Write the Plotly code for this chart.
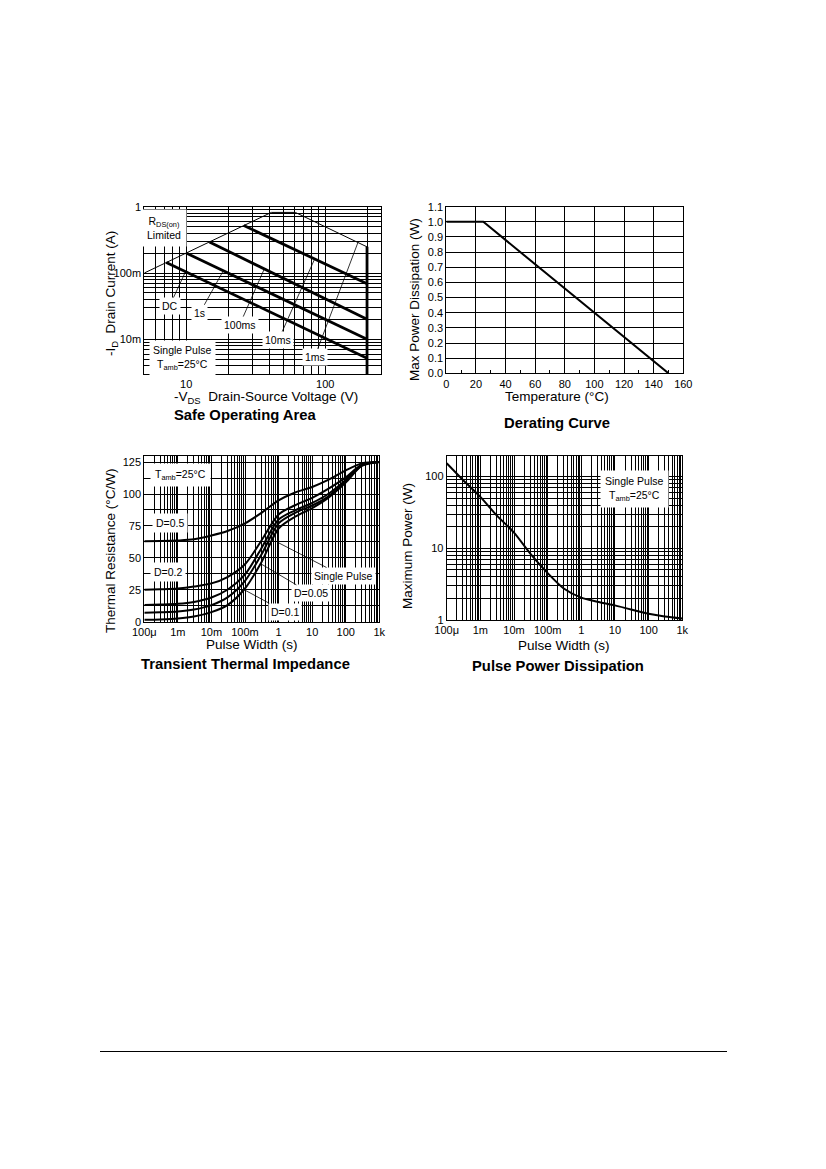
import math
import plotly.graph_objects as go

# ---- Safe Operating Area (-VDS in V, -ID in A)
soa_limit_v = [5, 41, 61, 200]
soa_limit_i = [0.1, 0.82, 0.82, 0.248]
soa_edge_v = [200, 200]
soa_edge_i = [0.248, 0.003]
soa_dc_v = [7.2, 200]
soa_dc_i = [0.144, 0.0052]
soa_1s_v = [10, 200]
soa_1s_i = [0.2, 0.01]
soa_100ms_v = [14.7, 200]
soa_100ms_i = [0.294, 0.02]
soa_10ms_v = [26, 200]
soa_10ms_i = [0.52, 0.069]

# ---- Derating curve
derate_temp = [0, 25, 150]
derate_power = [1.0, 1.0, 0.0]

# ---- Transient thermal impedance (pulse width s, degC/W)
pulse_t = [1e-4, 3e-4, 1e-3, 3e-3, 1e-2, 3e-2, 0.1, 0.3, 1, 3, 10, 30, 100, 300, 1000]
zth_d05 = [63, 63.2, 63.6, 64.5, 67.5, 71, 77, 85, 95, 101, 105.5, 111, 118.5, 124, 125]
zth_d02 = [25, 25.4, 26, 27.5, 30, 35, 45, 63, 84, 91, 97, 104, 113, 123, 125]
zth_d01 = [13, 13.4, 14, 15.5, 19, 25, 37, 57, 80, 87, 93, 100, 111, 122.5, 125]
zth_d005 = [7, 7.4, 8, 9.5, 13, 19, 32, 52, 77, 85, 91, 98, 110, 122.5, 125]
zth_single = [1.5, 1.8, 2.5, 4, 7.5, 13, 26, 46, 73, 82, 89, 97, 109, 122, 125]

# ---- Pulse power dissipation (pulse width s, W)
ppd_t = [1e-4, 3e-4, 1e-3, 3e-3, 1e-2, 3e-2, 0.1, 0.3, 1, 3, 10, 30, 100, 300, 1000]
ppd_p = [153, 90, 52, 29, 16.5, 8.5, 4.5, 2.75, 2.05, 1.8, 1.6, 1.4, 1.22, 1.12, 1.05]

# tick labels
soa_xlabels = {10: "10", 100: "100"}
soa_ylabels = {0.01: "10m", 0.1: "100m", 1: "1"}
time_labels = {1e-4: "100\u03bc", 1e-3: "1m", 1e-2: "10m", 1e-1: "100m",
               1: "1", 10: "10", 100: "100", 1000: "1k"}
ppd_ylabels = {1: "1", 10: "10", 100: "100"}

FONT = "Liberation Sans, Arial, sans-serif"
W, H = 826, 1169
OFF = 8  # page body margin of the html wrapper


def px(x):
    return (x - OFF) / W


def py(y):
    return 1 - (y - OFF) / H


def log_grid(lo_exp, hi_exp, extra=()):
    vals = [m * 10 ** e for e in range(lo_exp, hi_exp) for m in range(1, 10)]
    vals.append(10 ** hi_exp)
    vals += list(extra)
    return vals


def labels_for(vals, lookup):
    out = []
    for v in vals:
        txt = ""
        for k, t in lookup.items():
            if abs(v - k) < 1e-9 * max(1, k):
                txt = t
        out.append(txt)
    return out


fig = go.Figure()

thick = dict(color="black", width=2.8)
thin = dict(color="black", width=1)

# chart 1
fig.add_trace(go.Scatter(x=soa_limit_v, y=soa_limit_i, mode="lines", line=thin, xaxis="x", yaxis="y"))
fig.add_trace(go.Scatter(x=soa_edge_v, y=soa_edge_i, mode="lines", line=thick, xaxis="x", yaxis="y"))
for v, i in [(soa_dc_v, soa_dc_i), (soa_1s_v, soa_1s_i),
             (soa_100ms_v, soa_100ms_i), (soa_10ms_v, soa_10ms_i)]:
    fig.add_trace(go.Scatter(x=v, y=i, mode="lines", line=thick, xaxis="x", yaxis="y"))

# chart 2
fig.add_trace(go.Scatter(x=derate_temp, y=derate_power, mode="lines",
                         line=dict(color="black", width=2), xaxis="x2", yaxis="y2"))

# chart 3
for z in [zth_d05, zth_d02, zth_d01, zth_d005, zth_single]:
    fig.add_trace(go.Scatter(x=pulse_t, y=z, mode="lines",
                             line=dict(color="black", width=2, shape="spline", smoothing=0.8),
                             xaxis="x3", yaxis="y3"))

# chart 4
fig.add_trace(go.Scatter(x=ppd_t, y=ppd_p, mode="lines",
                         line=dict(color="black", width=2, shape="spline", smoothing=0.8),
                         xaxis="x4", yaxis="y4"))

axis_common = dict(showline=True, mirror=True, linecolor="black", linewidth=1,
                   showgrid=True, gridcolor="black", gridwidth=1, zeroline=False,
                   automargin=False, ticks="",
                   tickfont=dict(family=FONT, size=11, color="black"))

soa_xv = [5, 6, 7, 8, 9] + log_grid(1, 2, extra=[200])
soa_yv = [0.003, 0.004, 0.005, 0.006, 0.007, 0.008, 0.009] + log_grid(-2, 0)
time_v = log_grid(-4, 3)
ppd_yv = log_grid(0, 2, extra=[200])
zth_yv = [k * 12.5 for k in range(11)]

fig.update_layout(
    template="none",
    width=W, height=H, margin=dict(l=0, r=0, t=0, b=0, pad=0, autoexpand=False),
    paper_bgcolor="white", plot_bgcolor="white", showlegend=False,
    font=dict(family=FONT, color="black"),
    xaxis=dict(axis_common, type="log", domain=[px(144.3), px(380.5)],
               range=[math.log10(5), math.log10(250)], anchor="y",
               tickvals=soa_xv, ticktext=labels_for(soa_xv, soa_xlabels)),
    yaxis=dict(axis_common, type="log", domain=[py(374), py(206.7)],
               range=[math.log10(0.003), 0], anchor="x",
               tickvals=soa_yv, ticktext=labels_for(soa_yv, soa_ylabels)),
    xaxis2=dict(axis_common, domain=[px(446.3), px(683.3)], range=[0, 160],
                dtick=20, anchor="y2", ticks="inside", ticklen=3, tickcolor="black",
                minor=dict(dtick=10, ticks="inside", ticklen=3, tickcolor="black", showgrid=False)),
    yaxis2=dict(axis_common, domain=[py(373.3), py(206.7)], range=[0, 1.1],
                dtick=0.1, tickformat=".1f", anchor="x2"),
    xaxis3=dict(axis_common, type="log", domain=[px(144.3), px(379.3)], range=[-4, 3],
                anchor="y3", tickvals=time_v, ticktext=labels_for(time_v, time_labels)),
    yaxis3=dict(axis_common, domain=[py(621.7), py(455.7)], range=[0, 130], anchor="x3",
                tickvals=zth_yv,
                ticktext=[("%g" % v) if k % 2 == 0 else "" for k, v in enumerate(zth_yv)]),
    xaxis4=dict(axis_common, type="log", domain=[px(446.7), px(682.3)], range=[-4, 3],
                anchor="y4", tickvals=time_v, ticktext=labels_for(time_v, time_labels)),
    yaxis4=dict(axis_common, type="log", domain=[py(620), py(455.7)],
                range=[0, 2.29], anchor="x4",
                tickvals=ppd_yv, ticktext=labels_for(ppd_yv, ppd_ylabels)),
)

ann = []
lab_font = dict(family=FONT, size=10.5, color="black")


def box(text, x, y, xa, ya, log_x=True, log_y=True, pad=2):
    ann.append(dict(text=text, x=math.log10(x) if log_x else x,
                    y=math.log10(y) if log_y else y, xref=xa, yref=ya,
                    xanchor="center", yanchor="middle",
                    showarrow=False, bgcolor="white", borderpad=pad, font=lab_font))


def pointer(text, lx, ly, tx, ty, xa, ya, log_y=True):
    f = (lambda v: math.log10(v))
    gy = f if log_y else (lambda v: v)
    ann.append(dict(text=text, x=f(tx), y=gy(ty), ax=f(lx), ay=gy(ly),
                    xref=xa, yref=ya, axref=xa, ayref=ya, showarrow=True,
                    arrowhead=0, arrowwidth=0.8, arrowcolor="black", standoff=0,
                    bgcolor="white", borderpad=2, font=lab_font))


# chart 1 labels
box("R<sub>DS(on)</sub><br>Limited", 6.9, 0.48, "x", "y", pad=5)
box("Single Pulse<br>T<sub>amb</sub>=25\u00b0C", 9.4, 0.0052, "x", "y", pad=3)
pointer("DC", 7.6, 0.0318, 9.9, 0.105, "x", "y")
pointer("1s", 12.5, 0.0247, 18.5, 0.108, "x", "y")
pointer("100ms", 24.2, 0.0164, 36.6, 0.117, "x", "y")
pointer("10ms", 46.1, 0.00976, 83.8, 0.161, "x", "y")
pointer("1ms", 83.8, 0.00535, 172, 0.288, "x", "y")

# chart 3 labels
box("T<sub>amb</sub>=25\u00b0C", 1.16e-3, 114.9, "x3", "y3", log_y=False, pad=4)
box("D=0.5", 5.85e-4, 77.5, "x3", "y3", log_y=False, pad=3)
box("D=0.2", 5.2e-4, 39.2, "x3", "y3", log_y=False, pad=3)
pointer("Single Pulse", 83, 35.8, 0.9, 62.4, "x3", "y3", log_y=False)
pointer("D=0.05", 9.06, 22.2, 0.28, 45.7, "x3", "y3", log_y=False)
pointer("D=0.1", 1.55, 7.8, 0.089, 25.4, "x3", "y3", log_y=False)

# chart 4 label
box("Single Pulse<br>T<sub>amb</sub>=25\u00b0C", 39.3, 65.9, "x4", "y4", pad=4)

# axis titles and chart titles
title_font = dict(family=FONT, size=13.5, color="black")
bold_font = dict(family=FONT, size=14.8, color="black")


def page_text(text, x, y, font, angle=0):
    ann.append(dict(text=text, x=px(x), y=py(y), xref="paper", yref="paper",
                    xanchor="center", yanchor="middle",
                    showarrow=False, font=font, textangle=angle))


page_text("-V<sub>DS</sub>  Drain-Source Voltage (V)", 266, 397.5, title_font)
page_text("-I<sub>D</sub>  Drain Current (A)", 112, 294, title_font, -90)
page_text("<b>Safe Operating Area</b>", 245, 415, bold_font)

page_text("Temperature (\u00b0C)", 557, 396, title_font)
page_text("Max Power Dissipation (W)", 414, 300, title_font, -90)
page_text("<b>Derating Curve</b>", 557, 423, bold_font)

page_text("Pulse Width (s)", 252, 644, title_font)
page_text("Thermal Resistance (\u00b0C/W)", 110, 551, title_font, -90)
page_text("<b>Transient Thermal Impedance</b>", 245, 664, bold_font)

page_text("Pulse Width (s)", 564, 645, title_font)
page_text("Maximum Power (W)", 407, 546, title_font, -90)
page_text("<b>Pulse Power Dissipation</b>", 558, 666, bold_font)

fig.update_layout(annotations=ann)

# page footer rule
fig.add_shape(type="line", xref="paper", yref="paper", x0=px(100), x1=px(727),
              y0=py(1051.5), y1=py(1051.5), line=dict(color="black", width=1))

fig.write_html("out.html")
